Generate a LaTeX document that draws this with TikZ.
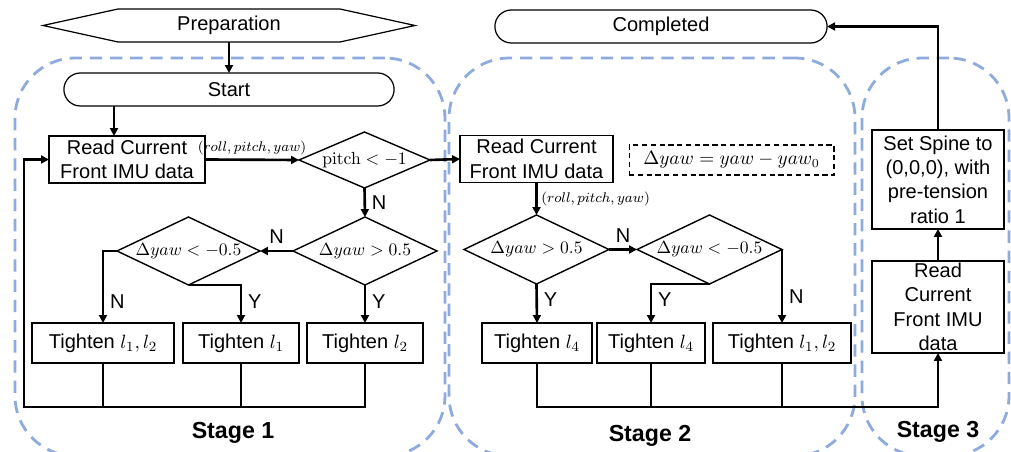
\documentclass[tikz,border=0pt]{standalone}
\usepackage[no-math]{fontspec}
\setmainfont{Liberation Sans}
\usetikzlibrary{shapes,arrows.meta,positioning,calc}

\tikzset{
  box/.style={draw, line width=0.8pt, minimum height=0.94cm, inner sep=1pt, outer sep=0pt, align=center, font=\fontsize{11.4}{13.9}\selectfont},
  test/.style={draw, diamond, aspect=2.2, line width=0.8pt, inner sep=0pt, outer sep=0pt, font=\fontsize{10.2}{12}\selectfont},
  term/.style={draw, rounded rectangle, line width=0.7pt, minimum height=0.66cm, outer sep=0pt, font=\fontsize{11.4}{13.9}\selectfont},
  flow/.style={-{Triangle[length=4.5pt,width=4.5pt]}, line width=1.5pt},
  wire/.style={line width=1.5pt},
  stagebox/.style={draw=stageblue, dash pattern=on 7pt off 4.5pt, line width=1.6pt, rounded corners=1.2cm},
  yn/.style={font=\fontsize{11.4}{13.9}\selectfont},
  stagelbl/.style={font=\fontsize{13.2}{16}\selectfont\bfseries},
  angles/.style={font=\fontsize{8}{10}\selectfont, inner sep=2pt}
}

\begin{document}
\begin{tikzpicture}[x=0.02cm, y=-0.02cm]
  \definecolor{stageblue}{RGB}{143,170,220}
  \useasboundingbox (0,0) rectangle (1011,452);

  % dashed frames round the three stages
  \node[stagebox, minimum width=8.6cm, minimum height=7.96cm] (stage1) at (230,257) {};
  \node[stagebox, minimum width=8.12cm, minimum height=7.96cm] (stage2) at (652,257) {};
  \node[stagebox, minimum width=2.94cm, minimum height=7.96cm] (stage3) at (935.5,257) {};

  % terminals, the hexagon ends are added by hand
  \node[minimum width=4.44cm, minimum height=0.66cm, outer sep=0pt, font=\fontsize{11.4}{13.9}\selectfont] (prep) at (229,25.5) {Preparation};
  \draw[line width=0.7pt] (prep.north west) -- ([xshift=-1.5cm]prep.west) -- (prep.south west)
    -- (prep.south east) -- ([xshift=1.5cm]prep.east) -- (prep.north east) -- cycle;
  \node[term, minimum width=6.84cm] (start) at (229,89.5) {Start};
  \node[term, minimum width=6.88cm] (done) at (661,26.5) {Completed};

  % stage 1
  \node[box, minimum width=3.12cm] (read1) at (127,159.5) {Read Current\\Front IMU data};
  \node[test, minimum width=2.62cm, minimum height=1.12cm] (pitch) at (364.5,160) {$\mathrm{pitch} < -1$};
  \node[test, minimum width=2.88cm, minimum height=1.36cm] (yawpos1) at (365,251) {$\Delta yaw > 0.5$};
  \node[test, minimum width=2.86cm, minimum height=1.36cm] (yawneg1) at (188.5,251) {$\Delta yaw < -0.5$};
  \node[box, minimum width=2.84cm, minimum height=0.8cm] (tboth1) at (103,343) {Tighten $l_1, l_2$};
  \node[box, minimum width=2.32cm, minimum height=0.8cm] (tone) at (241,343) {Tighten $l_1$};
  \node[box, minimum width=2.32cm, minimum height=0.8cm] (ttwo) at (365,343) {Tighten $l_2$};

  % stage 2
  \node[box, minimum width=3.06cm] (read2) at (536.5,159) {Read Current\\Front IMU data};
  \node[draw, dash pattern=on 3pt off 2pt, line width=0.6pt, minimum width=4.1cm, minimum height=0.6cm,
        font=\fontsize{10.6}{12}\selectfont] (delta) at (731.5,160) {$\Delta yaw = yaw - yaw_0$};
  \node[test, minimum width=2.9cm, minimum height=1.38cm] (yawpos2) at (536.5,249.5) {$\Delta yaw > 0.5$};
  \node[test, minimum width=2.9cm, minimum height=1.38cm] (yawneg2) at (709.5,249.5) {$\Delta yaw < -0.5$};
  \node[box, minimum width=2.2cm, minimum height=0.8cm] (tfour1) at (537,343) {Tighten $l_4$};
  \node[box, minimum width=2.16cm, minimum height=0.8cm] (tfour2) at (651,343) {Tighten $l_4$};
  \node[box, minimum width=2.76cm, minimum height=0.8cm] (tboth2) at (782,343) {Tighten $l_1, l_2$};

  % stage 3
  \node[box, minimum width=2.64cm, minimum height=1.98cm] (spine) at (938,179.5) {Set Spine to\\(0,0,0), with\\pre-tension\\ratio 1};
  \node[box, minimum width=2.64cm, minimum height=1.84cm, inner sep=0pt] (read3) at (938,307) {Read\\Current\\Front IMU\\data};

  % stage titles
  \node[stagelbl] (title1) at (233,433) {Stage 1};
  \node[stagelbl] (title2) at (650,436) {Stage 2};
  \node[stagelbl] (title3) at (938,432) {Stage 3};

  % stage 1 arrows
  \coordinate (in1) at ([xshift=-0.26cm]read1.north);
  \draw[flow] (prep.south) -- (start.north);
  \draw[flow] (in1 |- start.south) -- (in1);
  \draw[flow] (read1.east) -- node[angles, above] (rpy1) {$(roll, pitch, yaw)$} (pitch.west);
  \draw[flow] (pitch.east) -- (read2.west);
  \draw[flow] (pitch.south) -- node[yn, right] (n1) {N} (yawpos1.north);
  \draw[flow] (yawpos1.west) -- node[yn, above] (n2) {N} (yawneg1.east);
  \draw[flow] (yawneg1.west) -| node[yn, right, pos=0.85] (n3) {N} (tboth1.north);
  \draw[flow] (yawneg1.south) -| node[yn, right, pos=0.72] (y1) {Y} (tone.north);
  \draw[flow] (yawpos1.south) -- node[yn, right, pos=0.45] (y2) {Y} (ttwo.north);

  % loop back to the first reading
  \coordinate (back1) at (24,407);
  \draw[wire] (tboth1.south) -- (tboth1.south |- back1);
  \draw[wire] (tone.south) -- (tone.south |- back1);
  \draw[flow] (ttwo.south) |- (back1) |- (read1.west);

  % stage 2 arrows
  \draw[flow] (read2.south) -- node[angles, right] (rpy2) {$(roll, pitch, yaw)$} (yawpos2.north);
  \draw[flow] (yawpos2.east) -- node[yn, above] (n4) {N} (yawneg2.west);
  \draw[flow] (yawpos2.south) -- node[yn, right, pos=0.4] (y3) {Y} (tfour1.north);
  \draw[flow] (yawneg2.south) -| node[yn, right, pos=0.7] (y4) {Y} (tfour2.north);
  \draw[flow] (yawneg2.east) -- node[yn, right, pos=0.64] (n5) {N} (yawneg2.east |- tboth2.north);

  % all branches lead on to stage 3
  \coordinate (back2) at (0,407);
  \draw[wire] (tfour2.south) -- (tfour2.south |- back2);
  \draw[wire] (tboth2.south) -- (tboth2.south |- back2);
  \draw[flow] (tfour1.south) -- (tfour1.south |- back2) -| (read3.south);

  % stage 3 arrows
  \draw[flow] (read3.north) -- (spine.south);
  \draw[flow] (spine.north) |- (done.east);
\end{tikzpicture}
\end{document}
